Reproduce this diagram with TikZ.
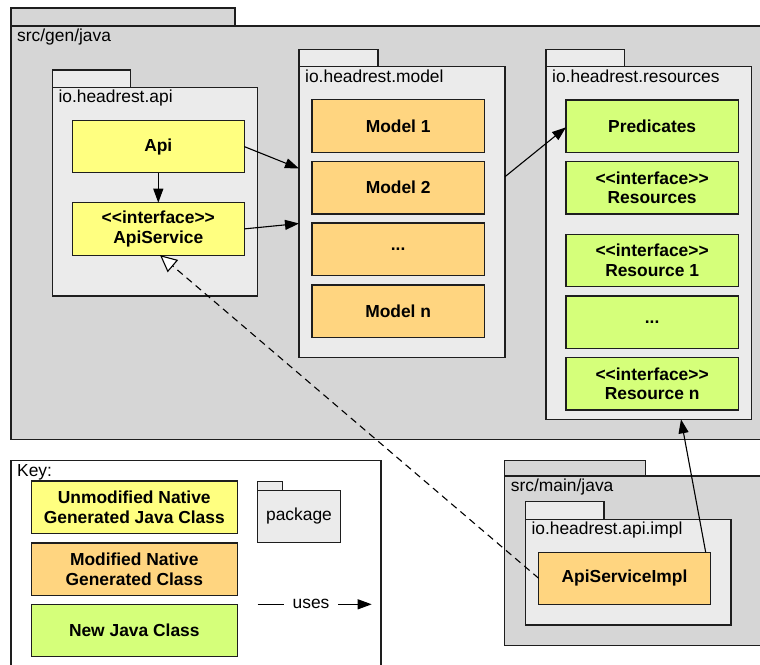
\documentclass[tikz,border=0pt]{standalone}
\usepackage{fontspec}
\setmainfont{Liberation Sans}
\usetikzlibrary{arrows.meta,calc}

\definecolor{pkgouter}{RGB}{214,214,214}
\definecolor{pkginner}{RGB}{235,235,235}
\definecolor{clsyellow}{RGB}{255,255,128}
\definecolor{clsorange}{RGB}{255,213,128}
\definecolor{clsgreen}{RGB}{213,255,122}
\definecolor{edge}{RGB}{30,30,30}

\newcommand{\textsize}{\fontsize{17.4}{19.5}\selectfont}
\newcommand{\stereo}[1]{<{}<#1>{}>}

\tikzset{
  box/.style={draw=edge, line width=1.2pt, inner sep=0pt, outer sep=0pt, anchor=north west},
  pkgtab/.style={box},
  pkgbody/.style={box},
  cls/.style={box, font=\textsize\bfseries, align=center, text=black},
  pkglabel/.style={anchor=base west, inner sep=0pt},
  uses/.style={-{Triangle[length=14pt,width=10pt]}, line width=1.1pt, draw=black},
  realizes/.style={-{Triangle[open,length=17pt,width=16pt,fill=white]}, line width=1.1pt,
                   draw=black, dash pattern=on 7pt off 5pt},
}

% package: tab and body as named nodes
% #1 name, #2 fill, #3 x, #4 y (tab top), #5 tab width, #6 tab height, #7 body width, #8 body height, #9 label
\newcommand{\umlpackage}[9]{%
  \node[pkgtab, fill=#2, minimum width=#5pt, minimum height=#6pt] (#1tab) at (#3,#4) {};
  \node[pkgbody, fill=#2, minimum width=#7pt, minimum height=#8pt] (#1) at (#3,#4+#6) {};
  \node[pkglabel] (#1label) at ($(#1.north west)+(6,15.5)$) {#9};
}

\begin{document}
\begin{tikzpicture}[x=1pt, y=-1pt, font=\textsize]
\clip (0,0) rectangle (760,664);
\fill[white] (0,0) rectangle (760,664);

% generated source tree
\umlpackage{gen}{pkgouter}{11}{8}{224}{18}{760}{413.5}{src/gen/java}

\umlpackage{api}{pkginner}{52.3}{70}{78.5}{17.3}{205.4}{208.7}{io.headrest.api}
\node[cls, fill=clsyellow, minimum width=172pt, minimum height=52.4pt] (apicls) at (72.3,120.4) {Api};
\node[cls, fill=clsyellow, minimum width=172pt, minimum height=52.4pt] (apisvc) at (72.3,202.7) {\stereo{interface}\\ApiService};

\umlpackage{model}{pkginner}{299}{49.3}{79}{17.4}{206}{291}{io.headrest.model}
\node[cls, fill=clsorange, minimum width=172.3pt, minimum height=52.4pt] (m1) at (312,99.8) {Model 1};
\node[cls, fill=clsorange, minimum width=172.3pt, minimum height=52.4pt] (m2) at (312,161.5) {Model 2};
\node[cls, fill=clsorange, minimum width=172.3pt, minimum height=52.4pt] (mdots) at (312,223) {...};
\node[cls, fill=clsorange, minimum width=172.3pt, minimum height=52.4pt] (mn) at (312,285) {Model n};

\umlpackage{res}{pkginner}{546}{49.3}{78.3}{17.4}{205.3}{352.6}{io.headrest.resources}
\node[cls, fill=clsgreen, minimum width=172.3pt, minimum height=52.2pt] (pred) at (566,100) {Predicates};
\node[cls, fill=clsgreen, minimum width=172.3pt, minimum height=52.2pt] (resi) at (566,161.7) {\stereo{interface}\\Resources};
\node[cls, fill=clsgreen, minimum width=172.3pt, minimum height=52.2pt] (res1) at (566,234.4) {\stereo{interface}\\Resource 1};
\node[cls, fill=clsgreen, minimum width=172.3pt, minimum height=52.2pt] (rdots) at (566,296) {...};
\node[cls, fill=clsgreen, minimum width=172.3pt, minimum height=52.2pt] (resn) at (566,357.8) {\stereo{interface}\\Resource n};

% hand-written source tree
\umlpackage{main}{pkgouter}{504.7}{460.7}{141}{15.3}{270}{169.7}{src/main/java}
\umlpackage{impl}{pkginner}{525.3}{501.7}{78.7}{17.6}{205.7}{105.7}{io.headrest.api.impl}
\node[cls, fill=clsorange, minimum width=171.6pt, minimum height=52pt] (implcls) at (538.7,552.3) {ApiServiceImpl};

% key
\node[box, fill=white, minimum width=370pt, minimum height=220pt] (key) at (11,460.7) {};
\node[pkglabel] (keylabel) at ($(key.north west)+(6,15.5)$) {Key:};
\node[cls, fill=clsyellow, minimum width=206pt, minimum height=52.3pt] (k1) at (31.3,481) {Unmodified Native\\Generated Java Class};
\node[cls, fill=clsorange, minimum width=206pt, minimum height=52.3pt] (k2) at (31.3,543) {Modified Native\\Generated Class};
\node[cls, fill=clsgreen, minimum width=206pt, minimum height=52.3pt] (k3) at (31.3,604.3) {New Java Class};
\node[pkgtab, fill=pkginner, minimum width=25pt, minimum height=9pt, line width=1pt] (kpkgtab) at (257.7,481) {};
\node[pkgbody, fill=pkginner, minimum width=82.6pt, minimum height=52.7pt, line width=1pt] (kpkg) at (257.7,490) {package};
\coordinate (ku1) at (257.7,604.3);
\coordinate (ku2) at (371.7,604.3);
\node[inner sep=0pt, inner xsep=8.5pt] (kuses) at (311,604.3) {uses};
\draw[line width=1.1pt] (ku1) -- (kuses);
\draw[uses] (kuses) -- (ku2);

% dependencies
\draw[uses] (apicls.east) -- (model.west |- 0,168.5);
\draw[uses] (apicls.south) -- (apisvc.north);
\draw[uses] (apisvc.east) -- (model.west |- 0,223.5);
\draw[uses] (model.east |- 0,176.7) -- (pred.west |- 0,127.3);
\draw[uses] ([xshift=-4.6pt]implcls.north east) -- (681,0 |- res.south);
\draw[realizes] (implcls.west |- 0,578.3) -- ([xshift=1.7pt]apisvc.south);

\end{tikzpicture}
\end{document}
